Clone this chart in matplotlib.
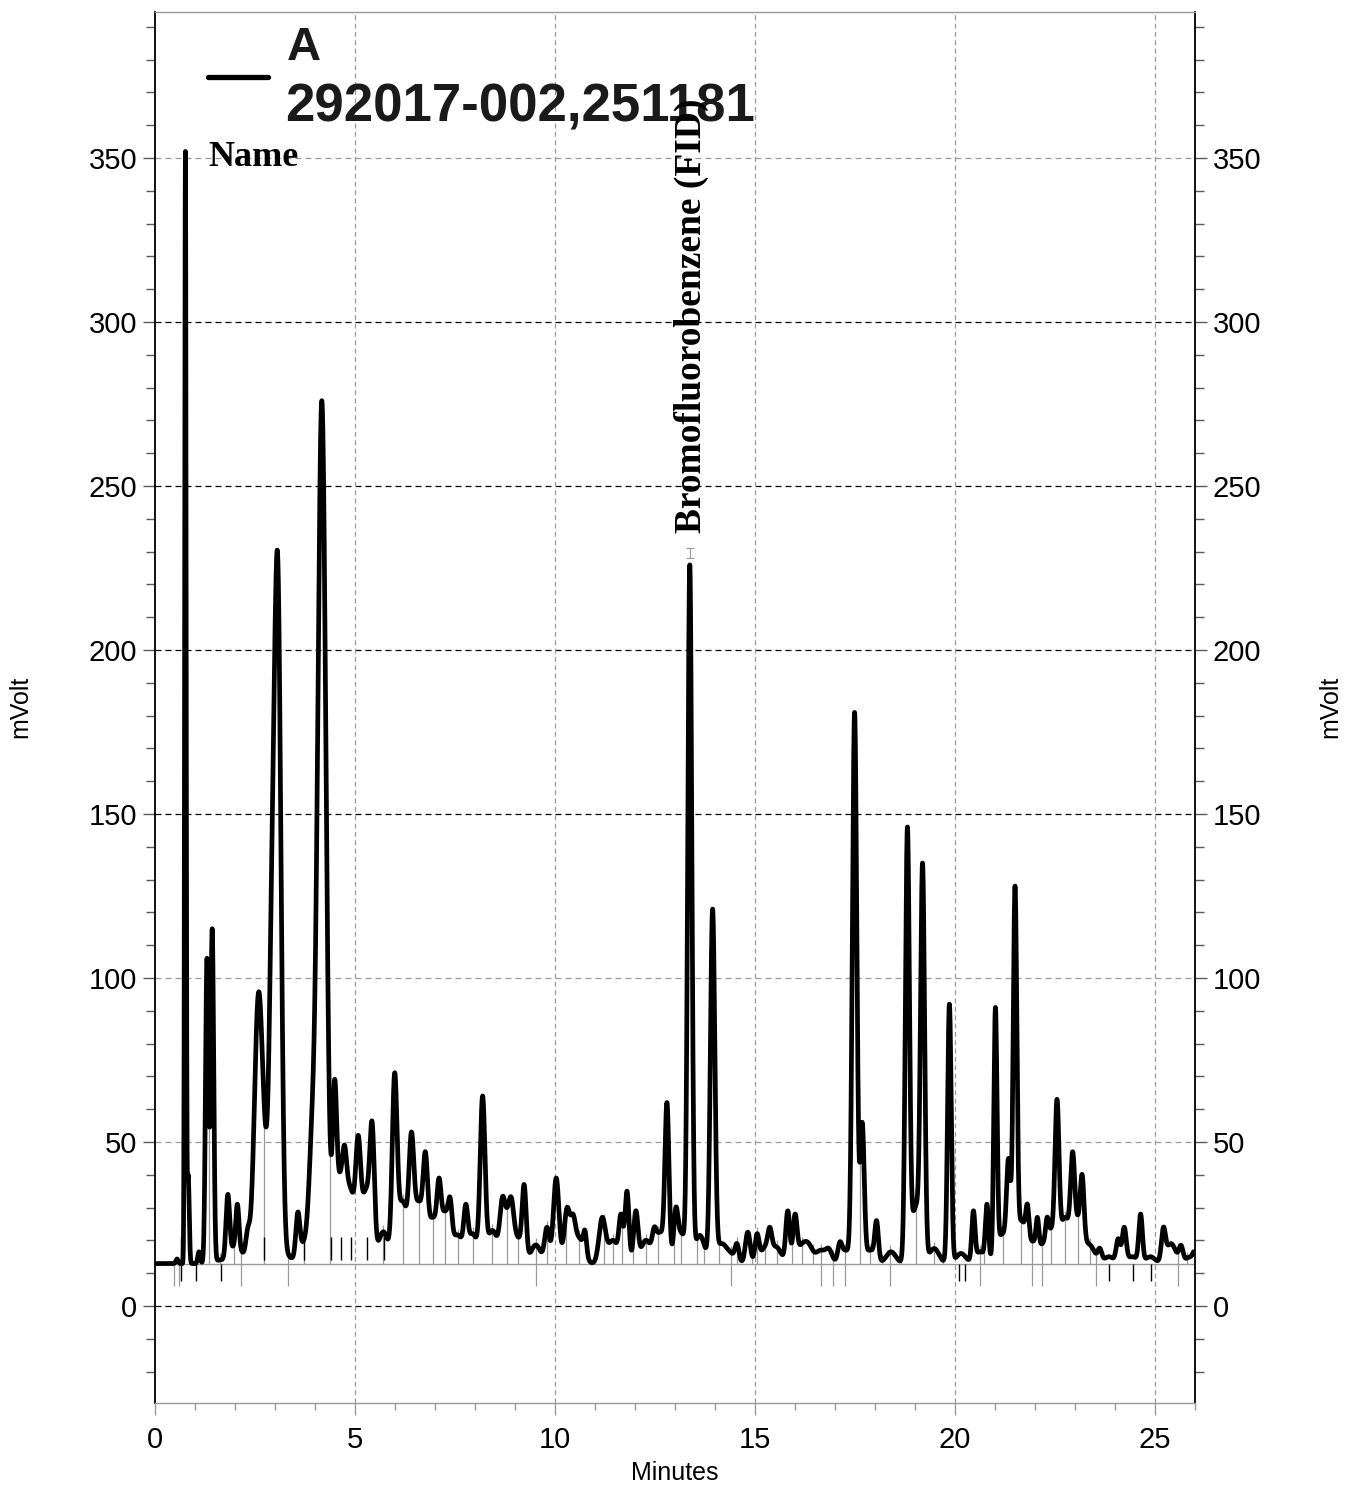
import numpy as np
import matplotlib
matplotlib.use("Agg")
import matplotlib.pyplot as plt
from matplotlib.lines import Line2D
from matplotlib.ticker import MultipleLocator

plt.rcParams['font.family'] = ['Liberation Sans', 'DejaVu Sans']
plt.rcParams['lines.scale_dashes'] = False

W, H = 1355, 1491

baseline_mv = 12.9

# peaks: retention time (min), trace value (mVolt), width (min)
peak_rt = [0.55, 0.76, 0.83, 1.10, 1.30, 1.43, 1.82, 2.06, 2.32, 2.58,
           2.93, 3.07, 3.57, 3.93, 4.17, 4.49, 4.74, 5.08, 5.43, 5.99,
           6.41, 6.76, 7.10, 7.38, 7.77, 8.19, 8.68, 8.91, 9.23, 9.80,
           10.03, 10.30, 10.45, 10.75, 11.18, 11.65, 11.80, 12.02, 12.48, 12.80,
           13.02, 13.37, 13.94, 14.55, 14.82, 15.05, 15.37, 15.82, 16.00, 16.35,
           16.85, 17.12, 17.49, 17.68, 18.04, 18.81, 19.19, 19.86, 20.46, 20.80,
           21.01, 21.34, 21.50, 21.81, 22.06, 22.30, 22.55, 22.94, 23.18, 23.62,
           24.08, 24.23, 24.64, 25.21, 25.65, 25.98]
peak_mv = [14.3, 352, 40, 16.5, 106, 115, 34, 31, 24, 95,
           150, 228, 28.6, 62, 276, 69, 49, 52, 56, 71,
           53, 47, 39, 33, 31, 64, 33, 33, 37, 24,
           39, 30, 28, 23, 27, 28, 35, 29, 24, 62,
           30, 226, 121, 19, 22.5, 22, 24, 29, 28, 19,
           17.5, 19.5, 181, 56, 26, 146, 135, 92, 29, 31,
           91, 45, 128, 31, 27, 27, 63, 47, 40, 17.6,
           20.5, 24, 28, 24, 18.5, 16.5]
peak_w = [0.03, 0.018, 0.025, 0.03, 0.037, 0.037, 0.045, 0.04, 0.05, 0.1,
          0.07, 0.08, 0.05, 0.08, 0.1, 0.05, 0.05, 0.06, 0.055, 0.06,
          0.06, 0.055, 0.05, 0.045, 0.05, 0.06, 0.06, 0.06, 0.05, 0.06,
          0.07, 0.07, 0.06, 0.04, 0.08, 0.05, 0.05, 0.055, 0.05, 0.05,
          0.05, 0.05, 0.055, 0.05, 0.06, 0.05, 0.05, 0.05, 0.05, 0.1,
          0.08, 0.05, 0.055, 0.05, 0.045, 0.05, 0.05, 0.045, 0.04, 0.04,
          0.04, 0.05, 0.045, 0.04, 0.035, 0.035, 0.05, 0.05, 0.045, 0.05,
          0.05, 0.05, 0.045, 0.05, 0.05, 0.04]

# valleys between peaks (min, mVolt)
valley_rt = [1.62, 1.97, 2.18, 2.75, 3.32, 3.74, 4.37, 4.63, 4.89, 5.28,
             5.71, 6.19, 6.59, 6.94, 7.26, 7.58, 7.94, 8.43, 8.80, 9.08,
             9.52, 10.6, 11.45, 12.27, 12.63, 13.15, 13.62, 14.15, 14.38, 15.26,
             15.54, 16.17, 16.64, 17.26, 17.88, 18.4, 19.03, 19.48, 20.15, 20.63,
             21.18, 21.66, 21.96, 22.18, 22.40, 22.75, 23.08, 23.38, 23.85, 24.43,
             24.88, 25.4, 25.88]
valley_mv = [14, 19, 16.5, 57, 16.5, 21, 56, 41, 36, 36,
             22.6, 32, 32, 27, 29, 21.6, 22, 23, 30, 21,
             18.6, 21, 20, 20, 22.5, 22.5, 21.5, 19, 16.5, 18.6,
             18, 19, 17, 17, 17, 16.5, 31, 17.5, 16, 16.5,
             22, 26, 19.8, 19, 23.8, 27, 28, 18.6, 15, 15,
             15, 19, 15]
valley_w = 0.12

# integration marks
drop_times = [0.68, 1.2, 1.36, 1.62, 1.97, 2.16, 2.72, 3.32, 3.72, 4.37,
              5.71, 6.19, 6.59, 6.94, 7.26, 7.58, 7.94, 8.43, 8.80, 9.08,
              9.52, 9.81, 10.28, 10.6, 10.85, 11.22, 11.45, 11.67, 11.95, 12.27,
              12.58, 12.98, 13.15, 13.54, 13.72, 14.11, 14.39, 14.55, 14.92, 15.05,
              15.26, 15.54, 15.92, 16.17, 16.45, 16.64, 16.94, 17.26, 17.63, 17.88,
              18.17, 18.38, 18.64, 19.03, 19.48, 19.69, 20.63, 20.72, 21.2, 21.65,
              21.93, 22.18, 22.4, 22.75, 23.07, 23.38, 23.53, 25.57, 25.8]
below_times = [0.47, 0.6, 2.16, 3.32, 9.52, 14.39, 16.64, 16.94, 17.26, 18.38,
               20.63, 21.93, 22.18, 23.53, 25.57]
black_up_times = [0.64, 2.72, 3.72, 4.41, 4.66, 4.91, 5.31, 5.72]
black_down_times = [0.64, 1.02, 1.65, 20.1, 20.25, 23.85, 24.44, 24.9]

rt = np.array(peak_rt + valley_rt)
mv = np.array(peak_mv + valley_mv)
wd = np.array(peak_w + [valley_w] * len(valley_rt))
G = np.exp(-0.5 * ((rt[:, None] - rt[None, :]) / wd[None, :]) ** 2)
amp = np.linalg.solve(G, mv - baseline_mv)

t = np.linspace(0, 26, 9000)
trace = baseline_mv + np.exp(-0.5 * ((t[:, None] - rt[None, :]) / wd[None, :]) ** 2) @ amp

fig = plt.figure(figsize=(W / 100, H / 100), dpi=100)
ax = fig.add_axes([155 / W, 1 - 1403 / H, (1195 - 155) / W, (1403 - 12) / H])

ax.set_xlim(0, 26)
ax.set_ylim(-29.6, 394.5)

# grid
for v in range(0, 351, 50):
    c = 'k' if v in (0, 150, 200, 250, 300) else '0.6'
    ax.axhline(v, color=c, lw=0.9, dashes=(4.3, 2.9), zorder=1)
for v in range(5, 26, 5):
    ax.axvline(v, color='0.6', lw=0.9, dashes=(3.5, 2.5), zorder=1)

ax.axhline(baseline_mv - 0.1, color='0.6', lw=1, zorder=2)

drop_top = np.interp(drop_times, t, trace)
ax.vlines(drop_times, baseline_mv, drop_top + 2, color='0.6', lw=0.9, zorder=2)
ax.vlines(below_times, 6, baseline_mv, color='0.6', lw=0.9, zorder=2)
ax.vlines(black_up_times, baseline_mv + 1, baseline_mv + 8, color='k', lw=1, zorder=2)
ax.vlines(black_down_times, 7.5, baseline_mv, color='k', lw=1, zorder=2)

ax.plot(t, trace, color='k', lw=3.4, zorder=3, solid_joinstyle='round')

# peak marker above Bromofluorobenzene
ax.errorbar(13.37, 229.5, yerr=1.6, color='0.6', lw=0.8, capsize=3, capthick=0.8)

# axes styling
ax.xaxis.set_major_locator(MultipleLocator(5))
ax.xaxis.set_minor_locator(MultipleLocator(1))
ax.yaxis.set_minor_locator(MultipleLocator(10))
ax.set_yticks(range(0, 351, 50))
ax.tick_params(axis='y', which='both', left=True, right=True, labelleft=True,
               labelright=True, direction='out', labelsize=21, color='0.35')
ax.tick_params(axis='y', which='major', length=8.6, width=1, pad=4.3)
ax.tick_params(axis='y', which='minor', length=6.5, width=1)
ax.tick_params(axis='x', which='major', length=8.6, width=1, pad=8,
               labelsize=21, color='0.6')
ax.tick_params(axis='x', which='minor', length=5, width=1, color='0.6')
for s in ('left', 'right'):
    ax.spines[s].set_color('k')
    ax.spines[s].set_linewidth(1.3)
for s in ('top', 'bottom'):
    ax.spines[s].set_color('0.6')
    ax.spines[s].set_linewidth(1)

fig.text(20 / W, 1 - 707 / H, 'mVolt', rotation=90, ha='center', va='center', fontsize=18)
fig.text(1330 / W, 1 - 707 / H, 'mVolt', rotation=90, ha='center', va='center', fontsize=18)
fig.text(675 / W, 1 - 1473 / H, 'Minutes', ha='center', va='center', fontsize=18)

# legend
fig.add_artist(Line2D([208 / W, 268 / W], [1 - 77 / H, 1 - 77 / H], color='k', lw=3.8,
                      solid_capstyle='round'))
fig.text(287 / W, 1 - 48 / H, 'A', ha='left', va='center', fontsize=34,
         fontweight='bold', color='#1a1a1a')
fig.text(285 / W, 1 - 107 / H, '292017-002,251181', ha='left', va='center', fontsize=38,
         fontweight='bold', color='#1a1a1a')
fig.text(208 / W, 1 - 158 / H, 'Name', ha='left', va='center', fontsize=26,
         fontweight='bold', family=['Liberation Serif', 'DejaVu Serif'])
fig.text(691 / W, 1 - 533 / H, 'Bromofluorobenzene (FID)', rotation=90, ha='center',
         va='bottom', fontsize=27, fontweight='bold',
         family=['Liberation Serif', 'DejaVu Serif'])

fig.savefig('out.png', dpi=100)
